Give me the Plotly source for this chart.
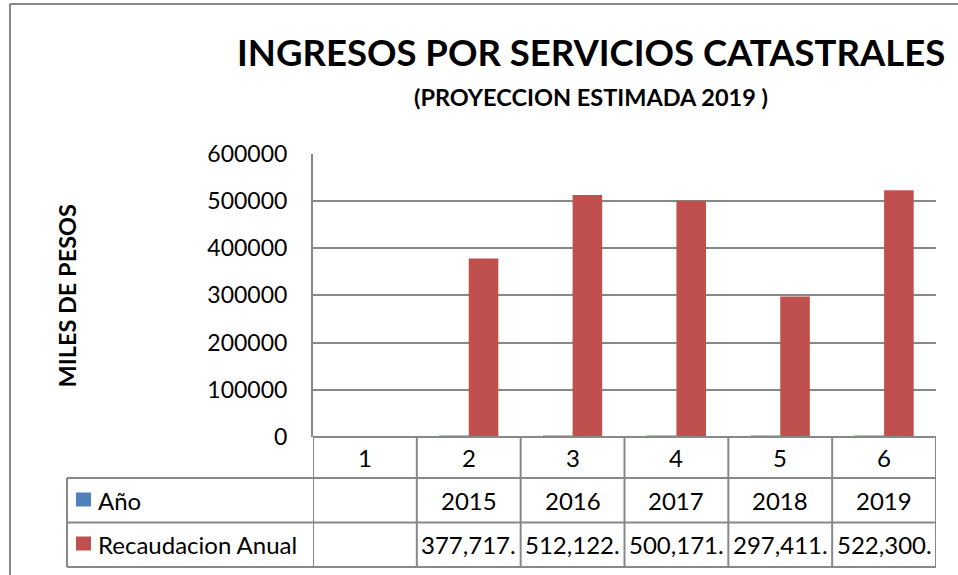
import plotly.graph_objects as go

# ---------------- data ----------------
categories = [1, 2, 3, 4, 5, 6]
anio_values = [None, 2015, 2016, 2017, 2018, 2019]
recaudacion_values = [None, 377717, 512122, 500171, 297411, 522300]
series_names = ["Año", "Recaudacion Anual"]
y_ticks = [0, 100000, 200000, 300000, 400000, 500000, 600000]
title_text = "INGRESOS POR SERVICIOS CATASTRALES"
subtitle_text = "(PROYECCION ESTIMADA 2019 )"
y_title_text = "MILES DE PESOS"

# ---------------- style ----------------
W, H = 958, 575
FONT = "Lato, 'Open Sans', sans-serif"
BLUE = "#4F81BD"
RED = "#C0504D"
GRID = "#888888"


def px(x):
    return x / W


def py(y):
    return 1 - y / H


PLOT_L, PLOT_R = 313, 936
PLOT_T, PLOT_B = 153.5, 437
ROW1_B, ROW2_B, ROW3_B = 478, 522.5, 567
LEG_L = 67

fig = go.Figure()
fig.add_trace(go.Bar(x=categories, y=anio_values, name=series_names[0],
                     marker=dict(color=BLUE, line=dict(width=0))))
fig.add_trace(go.Bar(x=categories, y=recaudacion_values, name=series_names[1],
                     marker=dict(color=RED, line=dict(width=0))))

shapes = []
LINE = dict(color=GRID, width=2)

# outer chart frame (top / left)
shapes.append(dict(type="line", xref="paper", yref="paper", x0=px(10), x1=px(W),
                   y0=py(4), y1=py(4), line=LINE))
shapes.append(dict(type="line", xref="paper", yref="paper", x0=px(10), x1=px(10),
                   y0=py(4), y1=py(H), line=LINE))

# data table: horizontal lines
shapes.append(dict(type="line", xref="x", yref="paper", x0=0.5, x1=6.5,
                   y0=py(PLOT_B), y1=py(PLOT_B), line=LINE))
for yy in (ROW1_B, ROW2_B, ROW3_B):
    shapes.append(dict(type="line", xref="paper", yref="paper", x0=px(LEG_L), x1=px(PLOT_R),
                       y0=py(yy), y1=py(yy), line=LINE))
# data table: vertical lines
for xb in [0.5, 1.5, 2.5, 3.5, 4.5, 5.5, 6.5]:
    shapes.append(dict(type="line", xref="x", yref="paper", x0=xb, x1=xb,
                       y0=py(PLOT_B), y1=py(ROW3_B), line=LINE))
shapes.append(dict(type="line", xref="paper", yref="paper", x0=px(LEG_L), x1=px(LEG_L),
                   y0=py(ROW1_B), y1=py(ROW3_B), line=LINE))

# legend keys
shapes.append(dict(type="rect", xref="paper", yref="paper", x0=px(76), x1=px(91),
                   y0=py(492.5), y1=py(506.5), fillcolor=BLUE, line=dict(width=0)))
shapes.append(dict(type="rect", xref="paper", yref="paper", x0=px(76), x1=px(91),
                   y0=py(536.5), y1=py(550.5), fillcolor=RED, line=dict(width=0)))

annotations = []
annotations.append(dict(text=f"<b>{title_text}</b>", xref="paper", yref="paper",
                        x=px(590.5), y=py(52), showarrow=False, xanchor="center", yanchor="middle",
                        font=dict(family=FONT, size=36.5, color="black")))
annotations.append(dict(text=f"<b>{subtitle_text}</b>", xref="paper", yref="paper",
                        x=px(591), y=py(97), showarrow=False, xanchor="center", yanchor="middle",
                        font=dict(family=FONT, size=23.5, color="black")))
annotations.append(dict(text=f"<b>{y_title_text}</b>", xref="paper", yref="paper",
                        x=px(66.5), y=py(296), showarrow=False, textangle=-90,
                        xanchor="center", yanchor="middle",
                        font=dict(family=FONT, size=23.5, color="black")))

row_font = dict(family=FONT, size=24, color="black")
# category row
for c in categories:
    annotations.append(dict(text=str(c), xref="x", yref="paper", x=c, y=py((PLOT_B + ROW1_B) / 2),
                            showarrow=False, xanchor="center", yanchor="middle", font=row_font))
# series rows
for c, v in zip(categories, anio_values):
    if v is not None:
        annotations.append(dict(text=str(v), xref="x", yref="paper", x=c,
                                y=py((ROW1_B + ROW2_B) / 2), showarrow=False,
                                xanchor="center", yanchor="middle", font=row_font))
for c, v in zip(categories, recaudacion_values):
    if v is not None:
        annotations.append(dict(text=f"{v:,}.", xref="x", yref="paper", x=c,
                                y=py((ROW2_B + ROW3_B) / 2), showarrow=False,
                                xanchor="center", yanchor="middle", font=row_font))
# legend labels
annotations.append(dict(text=series_names[0], xref="paper", yref="paper", x=px(96),
                        y=py((ROW1_B + ROW2_B) / 2), showarrow=False, xanchor="left",
                        yanchor="middle", font=row_font))
annotations.append(dict(text=series_names[1], xref="paper", yref="paper", x=px(96),
                        y=py((ROW2_B + ROW3_B) / 2), showarrow=False, xanchor="left",
                        yanchor="middle", font=row_font))

fig.update_layout(
    width=W, height=H, autosize=False,
    margin=dict(l=0, r=0, t=0, b=0, pad=0, autoexpand=False),
    paper_bgcolor="white", plot_bgcolor="white",
    showlegend=False,
    barmode="group", bargap=0.43, bargroupgap=0,
    shapes=shapes, annotations=annotations,
    xaxis=dict(domain=[px(PLOT_L), px(PLOT_R)], range=[0.5, 6.5], showticklabels=False,
               showgrid=False, zeroline=False, showline=False, ticks="", automargin=False),
    yaxis=dict(domain=[py(PLOT_B), py(PLOT_T)], range=[0, 600000], tickvals=y_ticks,
               ticktext=[str(t) for t in y_ticks], showgrid=True, gridcolor=GRID,
               gridwidth=1.5, zeroline=False, showline=True, linecolor=GRID, linewidth=2,
               ticks="", ticklabelstandoff=19, automargin=False,
               tickfont=dict(family=FONT, size=23, color="black")),
)

fig.write_html("out.html", config={"responsive": False, "displayModeBar": False},
               post_script="document.body.style.margin='0';document.body.style.overflow='hidden';")
